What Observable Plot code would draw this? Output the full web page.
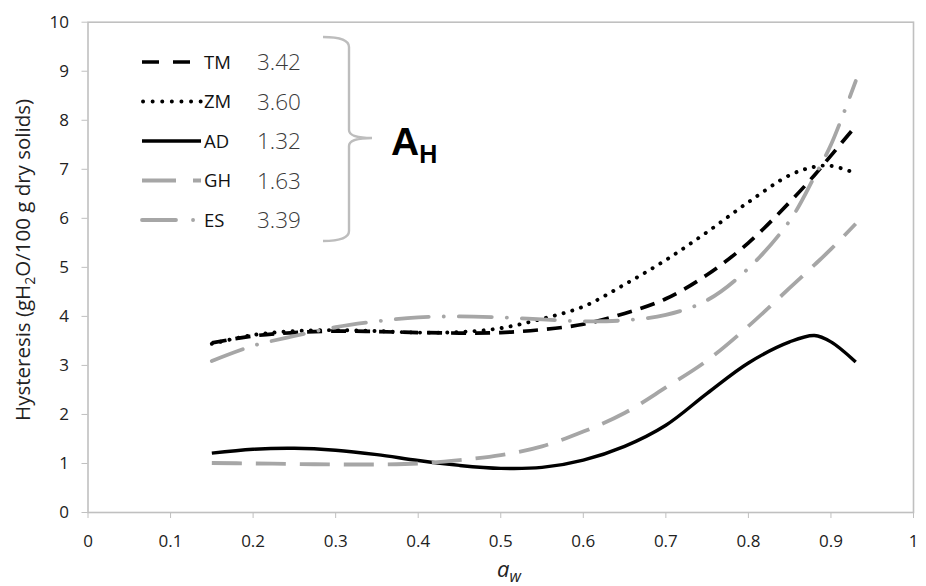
<!DOCTYPE html>
<html><head><meta charset="utf-8">
<script src="https://cdn.jsdelivr.net/npm/d3@7"></script>
<script src="https://cdn.jsdelivr.net/npm/@observablehq/plot@0.6"></script>
<style>body{margin:0;background:#fff;}</style>
</head><body><div id="chart"></div>
<script>
// water activity grid
const aw = [0.15, 0.2, 0.25, 0.3, 0.35, 0.4, 0.45, 0.5, 0.55, 0.6, 0.65, 0.7, 0.75, 0.8, 0.85, 0.88, 0.9, 0.93];
const TM = [3.46, 3.60, 3.67, 3.70, 3.69, 3.67, 3.66, 3.67, 3.73, 3.84, 4.06, 4.36, 4.85, 5.50, 6.33, 6.88, 7.28, 7.88];
const ZM = [3.44, 3.62, 3.70, 3.72, 3.70, 3.67, 3.68, 3.76, 3.95, 4.20, 4.65, 5.15, 5.72, 6.33, 6.88, 7.05, 7.07, 6.92];
const AD = [1.21, 1.29, 1.31, 1.27, 1.18, 1.06, 0.96, 0.90, 0.92, 1.07, 1.35, 1.78, 2.43, 3.05, 3.48, 3.61, 3.48, 3.07];
const GH = [1.01, 1.00, 0.99, 0.98, 0.98, 1.00, 1.07, 1.17, 1.35, 1.65, 2.03, 2.55, 3.10, 3.80, 4.58, 5.05, 5.37, 5.89];
const ES = [3.09, 3.40, 3.60, 3.78, 3.90, 3.98, 4.00, 3.98, 3.94, 3.90, 3.92, 4.03, 4.33, 4.98, 5.95, 6.85, 7.50, 8.80];
const seriesNames = ["TM", "ZM", "AD", "GH", "ES"];
const seriesValues = [TM, ZM, AD, GH, ES];
const AHvalues = ["3.42", "3.60", "1.32", "1.63", "3.39"];
const xTicks = [0, 0.1, 0.2, 0.3, 0.4, 0.5, 0.6, 0.7, 0.8, 0.9, 1];
const yTicks = [0, 1, 2, 3, 4, 5, 6, 7, 8, 9, 10];

// styles
const styles = {
  TM: {stroke: "#000", width: 3.7, dash: "15,9", cap: "butt"},
  ZM: {stroke: "#000", width: 3.9, dash: "0.1,9", cap: "round"},
  AD: {stroke: "#000", width: 3.4, dash: null, cap: "butt"},
  GH: {stroke: "#a6a6a6", width: 3.8, dash: "30,14", cap: "butt"},
  ES: {stroke: "#a6a6a6", width: 3.8, dash: "33,15,0.1,15", cap: "round"}
};

const rows = [];
seriesNames.forEach((name, i) => aw.forEach((x, j) => rows.push({name, x, y: seriesValues[i][j]})));

const lineMarks = seriesNames.map(name => Plot.line(rows.filter(d => d.name === name), {
  x: "x", y: "y", curve: "catmull-rom",
  stroke: styles[name].stroke, strokeWidth: styles[name].width,
  strokeDasharray: styles[name].dash || undefined, strokeLinecap: styles[name].cap
}));

const fontFam = "'Open Sans', 'Noto Sans', sans-serif";
const chart = Plot.plot({
  width: 926, height: 586,
  marginLeft: 87.5, marginRight: 13, marginTop: 21.7, marginBottom: 74,
  style: {fontFamily: fontFam, fontSize: "17px", background: "#fff"},
  x: {domain: [0, 1], label: null},
  y: {domain: [0, 10], label: null},
  marks: [
    Plot.frame({stroke: "#c0c0c0", strokeWidth: 1.6}),
    Plot.axisX({ticks: xTicks, tickSize: 6, tickPadding: 16, stroke: "#c0c0c0", fill: "#222", label: null, fontSize: 17,
      tickFormat: d => String(+d.toFixed(1))}),
    Plot.axisY({ticks: yTicks, tickSize: 6, tickPadding: 13, stroke: "#c0c0c0", fill: "#222", label: null, fontSize: 17}),
    ...lineMarks
  ]
});
document.getElementById("chart").appendChild(chart);

const svg = d3.select(chart);
svg.selectAll("[aria-label='x-axis tick label'] text, [aria-label='y-axis tick label'] text")
  .style("font-size", "17px").style("font-family", fontFam);
// y axis title
const yt = svg.append("text")
  .attr("transform", "translate(30,260) rotate(-90)")
  .attr("text-anchor", "middle")
  .style("font-family", fontFam).style("font-size", "20.5px").attr("fill", "#222");
yt.append("tspan").text("Hysteresis (gH");
yt.append("tspan").attr("font-size", "14px").attr("dy", 5).text("2");
yt.append("tspan").attr("dy", -5).text("O/100 g dry solids)");
// x axis title
const xt = svg.append("text").attr("x", 497).attr("y", 577).attr("text-anchor", "start")
  .style("font-family", fontFam).style("font-size", "22px").style("font-style", "italic").attr("fill", "#222");
xt.append("tspan").text("a");
xt.append("tspan").attr("font-size", "16px").attr("dy", 5).text("w");

// legend
const lg = svg.append("g").attr("text-anchor", "start");
seriesNames.forEach((name, i) => {
  const y = 62 + i * 39.5;
  const s = styles[name];
  const ln = lg.append("line").attr("x1", 142).attr("x2", 201).attr("y1", y).attr("y2", y)
    .attr("stroke", s.stroke).attr("stroke-width", s.width).attr("stroke-linecap", s.cap);
  if (name === "TM") ln.attr("stroke-dasharray", "17,14").attr("x2", 191);
  if (name === "ZM") ln.attr("stroke-dasharray", "0.1,9.5").attr("x1", 143);
  if (name === "GH") ln.attr("stroke-dasharray", "34,17");
  if (name === "ES") ln.attr("stroke-dasharray", "34,17,0.1,20");
  lg.append("text").attr("x", 204).attr("y", y).attr("dy", "0.36em").text(name)
    .style("font-family", fontFam).style("font-size", "18.5px").attr("fill", "#111");
  lg.append("text").attr("x", 257).attr("y", y).attr("dy", "0.36em").text(AHvalues[i])
    .style("font-family", fontFam).style("font-size", "22.5px").style("font-weight", "300").attr("fill", "#3a3a3a");
});
// bracket
lg.append("path")
  .attr("d", "M323,37 Q349,37 349,47 L349,130 Q349,138 372,138 Q349,138 349,146 L349,231 Q349,241 323,241")
  .attr("fill", "none").attr("stroke", "#bdbdbd").attr("stroke-width", 2.4);
const ah = lg.append("text").attr("x", 391).attr("y", 155)
  .style("font-family", "'Liberation Sans', Arial, sans-serif").style("font-weight", "bold").style("font-size", "39px").attr("fill", "#000");
ah.append("tspan").text("A");
ah.append("tspan").attr("font-size", "25px").attr("dy", 8).text("H");
</script>
</body></html>
